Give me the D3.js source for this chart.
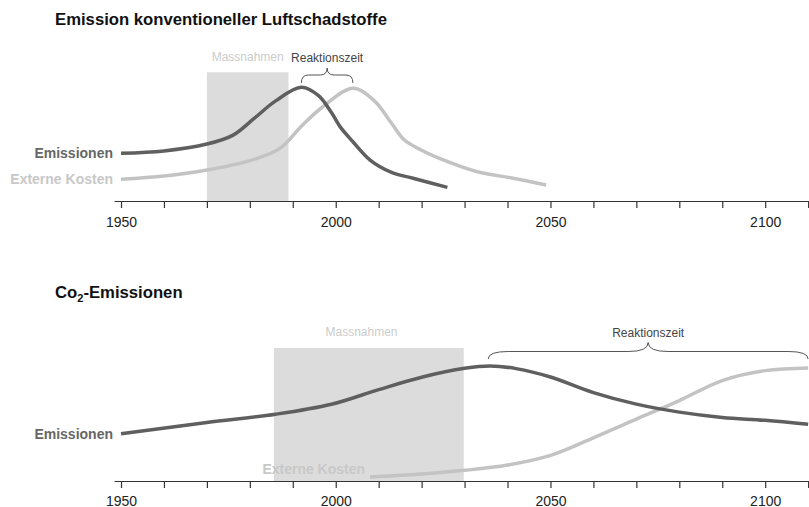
<!DOCTYPE html>
<html>
<head>
<meta charset="utf-8">
<script src="https://cdn.jsdelivr.net/npm/d3@7"></script>
<style>
  body { margin: 0; background: #fff; }
  svg { display: block; font-family: "Liberation Sans", Arial, Helvetica, sans-serif; }
</style>
</head>
<body>
<div id="chart"></div>
<script>
// ---- data ----
const tickYears = [1950, 1960, 1970, 1980, 1990, 2000, 2010, 2020, 2030, 2040, 2050, 2060, 2070, 2080, 2090, 2100, 2110];
const tickLabels = [1950, 2000, 2050, 2100];

// Emission konventioneller Luftschadstoffe
const topEmissionYears  = [1950, 1960, 1970, 1976, 1981, 1986, 1992, 1996, 1999, 2001, 2004, 2008, 2013, 2018, 2026];
const topEmissionValues = [36.7, 38.5, 43.8, 50.5, 63.5, 77, 87.5, 81, 68, 57.2, 45.6, 31.5, 22, 17.5, 10.5];
const topCostYears  = [1950, 1960, 1970, 1980, 1987, 1992, 1997, 2004, 2009, 2013, 2016, 2020, 2024, 2033, 2041, 2049];
const topCostValues = [16.7, 19.2, 23.8, 31, 40.5, 57.5, 72.5, 86.7, 77, 59.8, 46.9, 39, 33, 22.5, 17.7, 12.3];
const topMeasures = [1970, 1989];
const topReaction = [1992, 2004];

// Co2-Emissionen
const co2EmissionYears  = [1950, 1970, 1986, 1999, 2010, 2020, 2030, 2036, 2042, 2050, 2060, 2070, 2080, 2090, 2100, 2110];
const co2EmissionValues = [35.6, 44, 50.2, 57.7, 68.7, 78, 84.7, 86.5, 84.5, 78.2, 66.5, 57.8, 51.8, 47.8, 45.6, 42.6];
const co2CostYears  = [2008, 2020, 2030, 2040, 2050, 2060, 2070, 2080, 2090, 2100, 2110];
const co2CostValues = [3, 5.3, 8, 12, 19.3, 32.5, 46.5, 60.5, 75.5, 83, 85];
const co2Measures = [1985.6, 2029.8];
const co2Reaction = [2035.5, 2110];

const darkColor = "#5f5f5f";
const lightColor = "#c3c3c3";

const width = 809, height = 507;
const svg = d3.select("#chart").append("svg")
    .attr("width", width)
    .attr("height", height);

const x = d3.scaleLinear()
    .domain([1948.37, 2110.2])
    .range([114, 809]);

function zip(years, values) {
    return years.map((yr, i) => ({ year: yr, value: values[i] }));
}

// curly brace between x1 and x2, opening downwards
function bracePath(x1, x2, yEnd, yMid, yTip, r) {
    const xm = (x1 + x2) / 2;
    return `M${x1},${yEnd} Q${x1},${yMid} ${x1 + r},${yMid}` +
        ` L${xm - r},${yMid} Q${xm},${yMid} ${xm},${yTip}` +
        ` Q${xm},${yMid} ${xm + r},${yMid}` +
        ` L${x2 - r},${yMid} Q${x2},${yMid} ${x2},${yEnd}`;
}

function drawPanel(opt) {
    const g = svg.append("g");
    const y = d3.scaleLinear().domain([0, 100]).range([opt.axisY, opt.topY]);

    // title
    const title = g.append("text")
        .attr("x", 55)
        .attr("y", opt.titleY)
        .attr("font-size", 16.7)
        .attr("font-weight", "bold")
        .attr("fill", "#111");
    opt.title(title);

    // measures band
    g.append("rect")
        .attr("x", x(opt.measures[0]))
        .attr("y", y(opt.measuresTop))
        .attr("width", x(opt.measures[1]) - x(opt.measures[0]))
        .attr("height", opt.axisY - y(opt.measuresTop))
        .attr("fill", "#dcdcdc");

    g.append("text")
        .attr("x", x(opt.measuresLabelYear))
        .attr("y", opt.labelY)
        .attr("text-anchor", "middle")
        .attr("font-size", 12)
        .attr("fill", "#cccccc")
        .text("Massnahmen");

    // reaction time brace
    const bx1 = x(opt.reaction[0]), bx2 = x(opt.reaction[1]);
    g.append("path")
        .attr("d", bracePath(bx1, bx2, opt.brace[0], opt.brace[1], opt.brace[2], opt.brace[3]))
        .attr("fill", "none")
        .attr("stroke", "#555")
        .attr("stroke-width", 1);

    g.append("text")
        .attr("x", (bx1 + bx2) / 2)
        .attr("y", opt.labelY + 1)
        .attr("text-anchor", "middle")
        .attr("font-size", 12)
        .attr("fill", "#444")
        .text("Reaktionszeit");

    const line = d3.line()
        .x(d => x(d.year))
        .y(d => y(d.value))
        .curve(d3.curveCatmullRom.alpha(0.5));

    const cost = zip(opt.costYears, opt.costValues);
    const emis = zip(opt.emisYears, opt.emisValues);

    g.append("path")
        .datum(cost)
        .attr("d", line)
        .attr("fill", "none")
        .attr("stroke", lightColor)
        .attr("stroke-width", 3.5);

    g.append("path")
        .datum(emis)
        .attr("d", line)
        .attr("fill", "none")
        .attr("stroke", darkColor)
        .attr("stroke-width", 3.5);

    // series labels
    g.append("text")
        .attr("x", x(emis[0].year) - 8)
        .attr("y", y(emis[0].value))
        .attr("dy", "0.35em")
        .attr("text-anchor", "end")
        .attr("font-size", 14)
        .attr("font-weight", "bold")
        .attr("fill", "#666")
        .text("Emissionen");

    g.append("text")
        .attr("x", x(cost[0].year) - opt.costLabelDx)
        .attr("y", y(cost[0].value) + opt.costLabelDy)
        .attr("dy", "0.35em")
        .attr("text-anchor", "end")
        .attr("font-size", 14)
        .attr("font-weight", "bold")
        .attr("fill", "#c8c8c8")
        .text("Externe Kosten");

    // axis
    const axis = g.append("g")
        .attr("transform", `translate(0,${opt.axisY})`)
        .call(d3.axisBottom(x)
            .tickValues(tickYears)
            .tickSize(7)
            .tickSizeOuter(0)
            .tickPadding(opt.tickPad)
            .tickFormat(d => tickLabels.includes(d) ? d : ""));
    axis.select(".domain").attr("stroke", "#333").attr("stroke-width", 1.2);
    axis.selectAll(".tick line").attr("stroke", "#333").attr("stroke-width", 1.2);
    axis.selectAll(".tick text")
        .attr("font-size", 14)
        .attr("font-family", "'Liberation Sans', Arial, sans-serif")
        .attr("fill", "#222");
}

drawPanel({
    title: t => t.text("Emission konventioneller Luftschadstoffe"),
    titleY: 25,
    axisY: 201,
    topY: 71,
    measures: topMeasures,
    measuresTop: 99,
    measuresLabelYear: (topMeasures[0] + topMeasures[1]) / 2,
    reaction: topReaction,
    labelY: 61,
    brace: [83, 75, 68, 7],
    emisYears: topEmissionYears, emisValues: topEmissionValues,
    costYears: topCostYears, costValues: topCostValues,
    costLabelDx: 8, costLabelDy: 0,
    tickPad: 9
});

drawPanel({
    title: t => {
        t.append("tspan").text("Co");
        t.append("tspan").attr("font-size", 11).attr("dy", 4).text("2");
        t.append("tspan").attr("dy", -4).text("-Emissionen");
    },
    titleY: 298,
    axisY: 481,
    topY: 348,
    measures: co2Measures,
    measuresTop: 100,
    measuresLabelYear: 2006,
    reaction: co2Reaction,
    labelY: 336,
    brace: [359, 351.5, 342.5, 20],
    emisYears: co2EmissionYears, emisValues: co2EmissionValues,
    costYears: co2CostYears, costValues: co2CostValues,
    costLabelDx: 5, costLabelDy: -8,
    tickPad: 8
});
</script>
</body>
</html>
